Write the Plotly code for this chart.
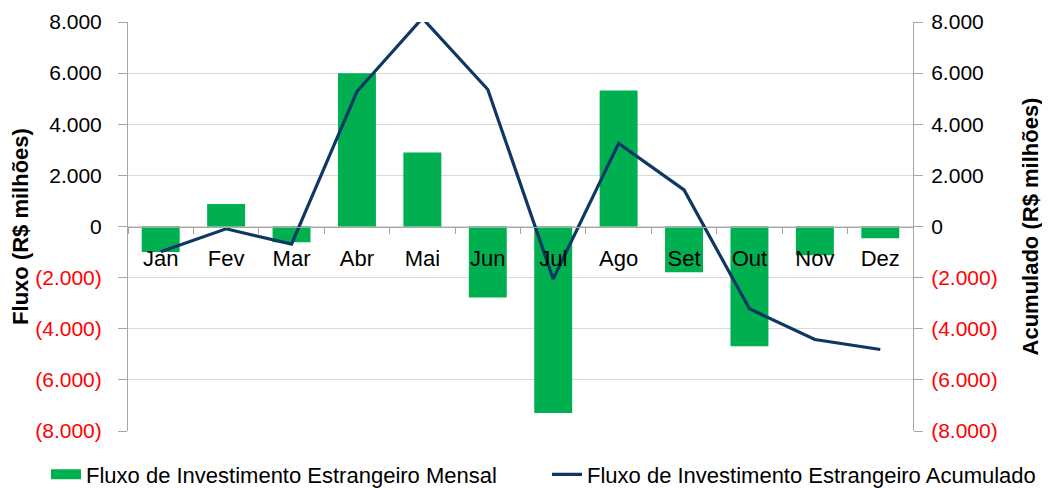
import plotly.graph_objects as go

meses = ["Jan", "Fev", "Mar", "Abr", "Mai", "Jun", "Jul", "Ago", "Set", "Out", "Nov", "Dez"]
fluxo_mensal = [-1000, 880, -620, 6000, 2890, -2780, -7300, 5320, -1790, -4680, -1120, -460]
fluxo_acumulado = [-990, -90, -690, 5280, 8150, 5360, -2050, 3250, 1430, -3220, -4420, -4810]
tick_vals = [8000, 6000, 4000, 2000, 0, -2000, -4000, -6000, -8000]
tick_text = ["8.000", "6.000", "4.000", "2.000", "0",
             "<span style='color:red'>(2.000)</span>",
             "<span style='color:red'>(4.000)</span>",
             "<span style='color:red'>(6.000)</span>",
             "<span style='color:red'>(8.000)</span>"]

nome_mensal = "Fluxo de Investimento Estrangeiro Mensal"
nome_acum = "Fluxo de Investimento Estrangeiro Acumulado"

font = "Liberation Sans, Arial, sans-serif"
verde = "#00B050"
azul = "#0E3763"

W, H = 1042, 480  # page adds an 8px body margin

fig = go.Figure()
fig.add_trace(go.Bar(
    x=meses, y=fluxo_mensal, name=nome_mensal, showlegend=False,
    marker=dict(color=verde, line=dict(width=0)), yaxis="y"))
# legend-only entry to mimic the wide green swatch
fig.add_trace(go.Scatter(
    x=[None], y=[None], name=nome_mensal, mode="lines",
    line=dict(color=verde, width=15), yaxis="y", legend="legend"))
fig.add_trace(go.Scatter(
    x=meses, y=fluxo_acumulado, name=nome_acum,
    mode="lines", line=dict(color=azul, width=3.2), yaxis="y2", legend="legend2"))

leg_common = dict(orientation="h", xref="container", yref="container",
                  xanchor="left", y=0.028, yanchor="middle",
                  font=dict(size=22, family=font), itemwidth=30,
                  bgcolor="rgba(0,0,0,0)", borderwidth=0)

fig.update_layout(
    width=W, height=H,
    margin=dict(l=120, r=137, t=14, b=57, autoexpand=False),
    paper_bgcolor="white", plot_bgcolor="white",
    font=dict(family=font, size=21, color="black"),
    bargap=0.42,
    showlegend=True,
    legend=dict(x=38 / W, **leg_common),
    legend2=dict(x=539 / W, **leg_common),
    xaxis=dict(anchor="free", position=0.5, showline=True, linecolor="#A6A6A6", linewidth=1,
               ticks="outside", tickson="boundaries", ticklen=6, tickcolor="#A6A6A6",
               showgrid=False, tickfont=dict(size=22), ticklabelstandoff=12),
    yaxis=dict(range=[-8000, 8000], tickvals=tick_vals, ticktext=tick_text,
               showgrid=True, gridcolor="#D9D9D9", zeroline=False,
               showline=True, linecolor="#A6A6A6", ticks="outside", ticklen=9, tickcolor="#A6A6A6",
               tickfont=dict(size=21), ticklabelstandoff=12,
               title=dict(text="<b>Fluxo (R$ milhões)</b>", font=dict(size=22), standoff=6)),
    yaxis2=dict(range=[-8000, 8000], tickvals=tick_vals, ticktext=tick_text,
                overlaying="y", side="right", showgrid=False, zeroline=False,
                showline=True, linecolor="#A6A6A6", ticks="outside", ticklen=9, tickcolor="#A6A6A6",
                tickfont=dict(size=21), ticklabelstandoff=4,
                title=dict(text="<b>Acumulado (R$ milhões)</b>", font=dict(size=22), standoff=25)),
)

fig.write_html("out.html")
